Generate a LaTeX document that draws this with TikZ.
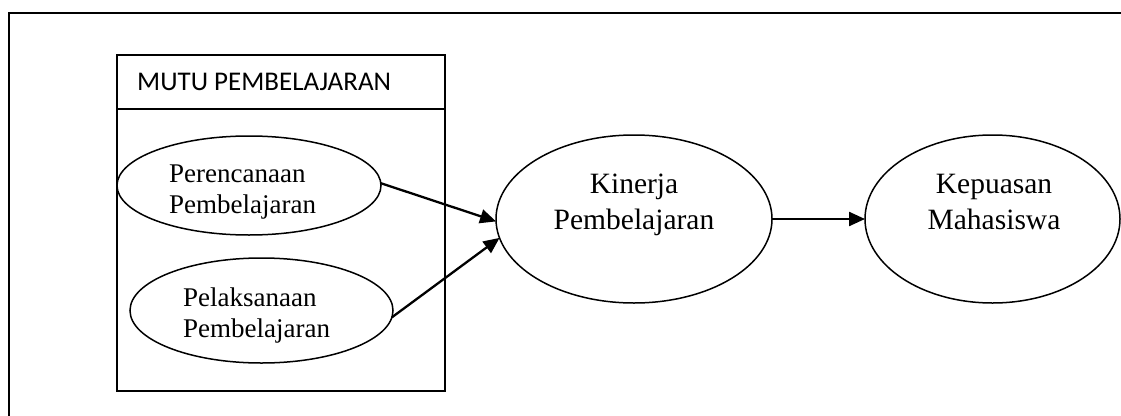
\documentclass[tikz,border=0pt]{standalone}
\usepackage{fontspec}
\setmainfont{Liberation Serif}
\newfontfamily\hdrfont{Carlito}
\usetikzlibrary{shapes.geometric,arrows.meta}
\tikzset{
  frameline/.style={line width=1.7pt},
  boxline/.style={line width=1.6pt},
  oval/.style={ellipse,draw,line width=1.5pt,inner sep=0pt,outer sep=0pt},
  smalltxt/.style={font=\fontsize{27}{31}\selectfont,inner sep=0pt,anchor=base west},
  bigtxt/.style={font=\fontsize{29.5}{36}\selectfont,inner sep=0pt,anchor=base},
  hdr/.style={font=\hdrfont\fontsize{27}{32}\selectfont,inner sep=0pt,anchor=base west},
  arr/.style={line width=2.3pt,-{Triangle[length=16pt,width=14pt]}}
}
\begin{document}
\begin{tikzpicture}[x=1pt,y=-1pt]
\clip (0,0) rectangle (1121,415);
\fill[white] (0,0) rectangle (1121,415);
% outer frame (only top and left edges fall inside the picture)
\draw[frameline] (9,430) -- (9,13) -- (1140,13);
% MUTU PEMBELAJARAN box
\draw[boxline] (117,55) rectangle (445,391);
\draw[boxline] (117,109) -- (445,109);
\node[hdr] (hdrtxt) at (137,90.7) {MUTU PEMBELAJARAN};
% ellipses
\node[oval,minimum width=264pt,minimum height=99pt] (p1) at (249,185.5) {};
\node[oval,minimum width=263pt,minimum height=105pt] (p2) at (261.5,310.5) {};
\node[oval,minimum width=276pt,minimum height=168pt] (k) at (634,219) {};
\node[oval,minimum width=255pt,minimum height=168pt] (kp) at (992.5,219) {};
% texts
\node[smalltxt] (p1a) at (169,182) {Perencanaan};
\node[smalltxt] (p1b) at (169,213) {Pembelajaran};
\node[smalltxt] (p2a) at (183,306) {Pelaksanaan};
\node[smalltxt] (p2b) at (183,337) {Pembelajaran};
\node[bigtxt] (ka) at (634,193) {Kinerja};
\node[bigtxt] (kb) at (634,229) {Pembelajaran};
\node[bigtxt] (kpa) at (994,193) {Kepuasan};
\node[bigtxt] (kpb) at (994,229) {Mahasiswa};
% arrows
\draw[arr] (p1.1) -- (k.181);
\draw[arr] (p2.357) -- (k.188);
\draw[arr] (k.east) -- (kp.west);
\end{tikzpicture}
\end{document}
